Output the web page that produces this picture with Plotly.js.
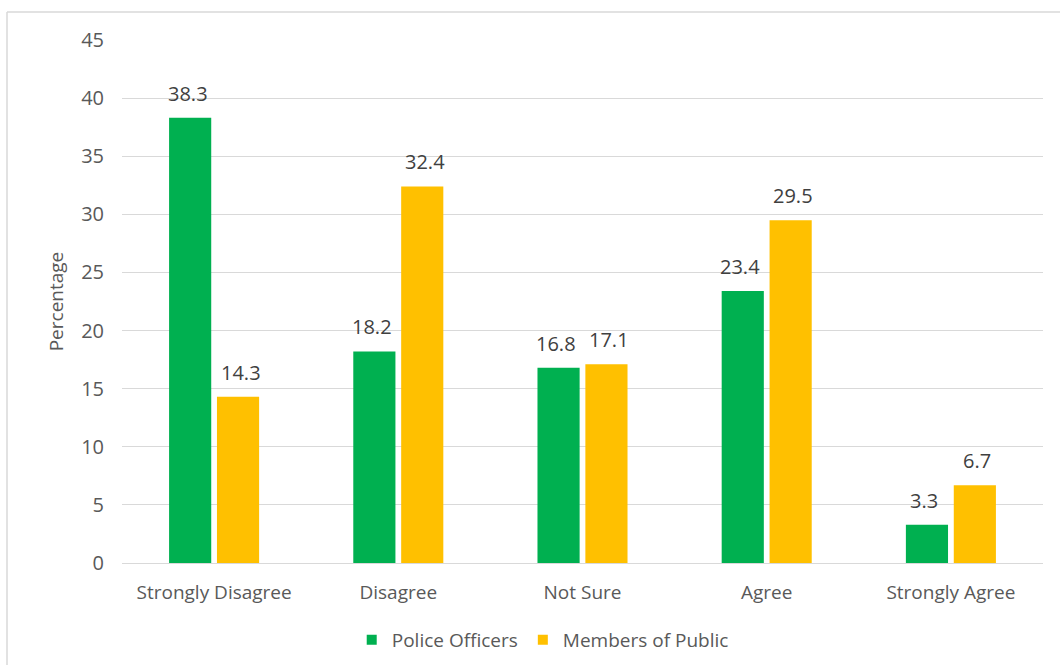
<!DOCTYPE html>
<html>
<head>
<meta charset="utf-8">
<script src="https://cdn.plot.ly/plotly-3.0.1.min.js"></script>
<style>
html,body{margin:0;padding:0;background:#fff;}
#chart{width:1060px;height:665px;}
</style>
</head>
<body>
<div id="chart"></div>
<script>
const categories = ["Strongly Disagree", "Disagree", "Not Sure", "Agree", "Strongly Agree"];
const policeOfficers = [38.3, 18.2, 16.8, 23.4, 3.3];
const membersOfPublic = [14.3, 32.4, 17.1, 29.5, 6.7];
const seriesNames = ["Police Officers", "Members of Public"];
const yTicks = [0, 5, 10, 15, 20, 25, 30, 35, 40, 45];

const FONT = "Open Sans, Liberation Sans, sans-serif";
const TXT = "#595959";
const green = "#00B050";
const orange = "#FFC000";
const colors = [green, orange];

const traces = [
  {type: "bar", name: seriesNames[0], x: categories, y: policeOfficers,
   marker: {color: green}, showlegend: false},
  {type: "bar", name: seriesNames[1], x: categories, y: membersOfPublic,
   marker: {color: orange}, showlegend: false}
];
// legend-only entries with small square swatches
seriesNames.forEach((n, s) => {
  traces.push({type: "scatter", mode: "markers", name: n, x: [null], y: [null],
    marker: {symbol: "square", size: 10, color: colors[s]}, showlegend: true});
});

const annotations = [];
[policeOfficers, membersOfPublic].forEach((vals, s) => {
  vals.forEach((v, i) => {
    annotations.push({
      x: categories[i], y: v, xref: "x", yref: "y",
      text: v.toFixed(1), showarrow: false,
      xanchor: "center", yanchor: "bottom",
      xshift: s === 0 ? -26.5 : 26.5, yshift: 9,
      font: {family: FONT, size: 20, color: "#404040"}
    });
  });
});

const layout = {
  width: 1060, height: 665,
  margin: {l: 122, r: 17, t: 40, b: 102, autoexpand: false},
  paper_bgcolor: "#fff", plot_bgcolor: "#fff",
  font: {family: FONT, size: 19, color: TXT},
  bargap: 0.48, bargroupgap: 0.12, barmode: "group",
  showlegend: true,
  legend: {orientation: "h", xref: "container", yref: "container",
           x: 0.512, xanchor: "center", y: 0.0376, yanchor: "middle",
           font: {family: FONT, size: 19, color: TXT}, itemwidth: 30, tracegroupgap: 0},
  xaxis: {type: "category", showgrid: false, zeroline: false, showline: false,
          ticks: "", tickfont: {family: FONT, size: 19, color: TXT}, ticklabelstandoff: 16},
  yaxis: {range: [0, 45], tickvals: yTicks, showgrid: true, gridcolor: "#d9d9d9",
          zeroline: true, zerolinecolor: "#d9d9d9", zerolinewidth: 1, showline: false,
          ticks: "", ticklabelstandoff: 17,
          tickfont: {family: FONT, size: 20, color: TXT},
          title: {text: "Percentage", standoff: 12, font: {family: FONT, size: 19, color: TXT}}},
  annotations: annotations,
  shapes: [
    {type: "line", xref: "paper", yref: "paper", x0: (7-122)/921, x1: (1060-122)/921,
     y0: (563-12)/523, y1: (563-12)/523, line: {color: "#d9d9d9", width: 1.5}, layer: "below"},
    {type: "line", xref: "paper", yref: "paper", x0: (7-122)/921, x1: (7-122)/921,
     y0: (563-12)/523, y1: (563-670)/523, line: {color: "#d9d9d9", width: 1.5}, layer: "below"}
  ]
};

Plotly.newPlot("chart", traces, layout, {displayModeBar: false, staticPlot: true});
</script>
</body>
</html>
